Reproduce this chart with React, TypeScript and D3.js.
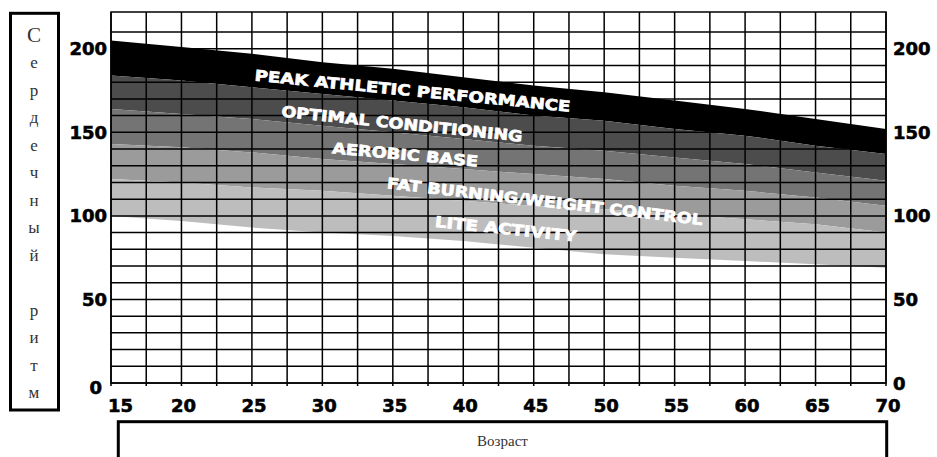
import React from 'react';
import * as d3 from 'd3';

// heart-rate zone boundaries, per age
const ages = [15, 20, 25, 30, 35, 40, 45, 50, 55, 60, 65, 70];
const peakTop = [205, 201, 197, 192, 188, 183, 178, 174, 169, 164, 158, 152];
const optimalTop = [184, 181, 177, 173, 169, 165, 160, 157, 152, 148, 142, 137];
const aerobicTop = [164, 161, 158, 154, 150, 146, 142, 139, 135, 131, 126, 121];
const fatBurnTop = [143, 141, 138, 134, 131, 128, 125, 122, 118, 115, 111, 106];
const liteTop = [122, 120, 117, 115, 112, 109, 106, 104, 101, 98, 95, 90];
const liteBottom = [100, 97, 93, 90, 88, 85, 81, 77, 75, 73, 71, 69];

const zoneNames = [
  'PEAK ATHLETIC PERFORMANCE',
  'OPTIMAL CONDITIONING',
  'AEROBIC BASE',
  'FAT BURNING/WEIGHT CONTROL',
  'LITE ACTIVITY',
];
// where each zone name starts and ends, as [age, bpm]
const zoneLabelStart = [[25.2, 184], [27.1, 162.4], [30.7, 140.5], [34.6, 119.5], [38.0, 96.5]];
const zoneLabelEnd = [[47.6, 165.3], [44.2, 147.4], [41.05, 132.4], [57.0, 97.5], [48.05, 87.6]];

const yTicks = [0, 50, 100, 150, 200];
const xTicks = [15, 20, 25, 30, 35, 40, 45, 50, 55, 60, 65, 70];
const yTitle = 'Сердечный ритм';
const xTitle = 'Возраст';

const zoneColors = ['#000000', '#4c4c4c', '#747474', '#9b9b9b', '#bdbdbd'];

const W = 937;
const H = 457;
const plot = { left: 111, right: 886, top: 12, bottom: 383 };

export default function App() {
  const x = d3.scaleLinear().domain([15, 70]).range([plot.left, plot.right]);
  const y = d3.scaleLinear().domain([0, 222]).range([plot.bottom, plot.top]);

  const bounds = [peakTop, optimalTop, aerobicTop, fatBurnTop, liteTop, liteBottom];
  const area = d3
    .area<number>()
    .x((_, i) => x(ages[i]))
    .curve(d3.curveLinear);

  const bands = zoneColors.map((c, k) => {
    const top = bounds[k];
    const bot = bounds[k + 1];
    const path = area.y0((_, i) => y(bot[i])).y1((_, i) => y(top[i]))(ages) as string;
    return <path key={k} d={path} fill={c} />;
  });

  const vLines = d3.range(15, 70.01, 2.5);
  const hLines = d3.range(0, 211, 10);

  const numFont = {
    fontFamily: '"DejaVu Sans", sans-serif',
    fontWeight: 700,
    fontSize: 18,
    fill: '#000',
    stroke: '#000',
    strokeWidth: 0.6,
  };

  const letters = Array.from(yTitle);

  return (
    <div style={{ position: 'absolute', left: 0, top: 0 }}>
      <svg width={W} height={H} viewBox={`0 0 ${W} ${H}`} style={{ display: 'block', background: '#fff' }}>
        {bands}

        {/* grid */}
        <g stroke="#000" strokeWidth={1.5}>
          {hLines.map((v) => (
            <line key={'h' + v} x1={plot.left} x2={plot.right} y1={y(v)} y2={y(v)} />
          ))}
          {vLines.map((v) => (
            <line key={'v' + v} x1={x(v)} x2={x(v)} y1={plot.top} y2={plot.bottom + 3} />
          ))}
          <rect x={plot.left} y={plot.top} width={plot.right - plot.left} height={plot.bottom - plot.top} fill="none" />
        </g>

        {/* zone names */}
        {zoneNames.map((name, i) => {
          const x0 = x(zoneLabelStart[i][0]);
          const y0 = y(zoneLabelStart[i][1]);
          const x1 = x(zoneLabelEnd[i][0]);
          const y1 = y(zoneLabelEnd[i][1]);
          const ang = (Math.atan2(y1 - y0, x1 - x0) * 180) / Math.PI;
          const len = Math.hypot(x1 - x0, y1 - y0);
          return (
            <text
              key={name}
              x={x0}
              y={y0}
              transform={`rotate(${ang},${x0},${y0})`}
              dominantBaseline="central"
              textLength={len}
              lengthAdjust="spacingAndGlyphs"
              style={{
                fontFamily: '"DejaVu Sans", sans-serif',
                fontWeight: 700,
                fontSize: 15,
                fill: '#fff',
                stroke: '#fff',
                strokeWidth: 0.7,
              }}
            >
              {name}
            </text>
          );
        })}

        {/* y axis labels, both sides */}
        {yTicks.map((v) => (
          <g key={'y' + v}>
            <text
              x={v === 0 ? plot.left - 9 : plot.left - 4}
              y={y(v) + (v === 0 ? 4 : 0)}
              textAnchor="end"
              dominantBaseline="central"
              style={numFont}
            >
              {v}
            </text>
            <text x={plot.right + 7} y={y(v)} textAnchor="start" dominantBaseline="central" style={numFont}>
              {v}
            </text>
          </g>
        ))}

        {/* x axis labels */}
        {xTicks.map((v, i) => (
          <text
            key={'x' + v}
            x={i === 0 ? x(v) - 3 : x(v) + 2}
            y={405}
            textAnchor={i === 0 ? 'start' : 'middle'}
            dominantBaseline="central"
            style={numFont}
          >
            {v}
          </text>
        ))}

        {/* y title box */}
        <rect x={10.5} y={13.3} width={48} height={396.7} fill="none" stroke="#000" strokeWidth={3} />
        {letters.map((ch, i) => (
          <text
            key={'l' + i}
            x={34}
            y={35 + i * 27.5}
            textAnchor="middle"
            dominantBaseline="central"
            style={{ fontFamily: '"Liberation Serif", serif', fontSize: i === 0 ? 21 : 17, fill: '#333' }}
          >
            {ch}
          </text>
        ))}

        {/* x title box */}
        <rect x={118.3} y={421.7} width={768.4} height={60} fill="none" stroke="#000" strokeWidth={3} />
        <text
          x={(118.3 + 886.7) / 2}
          y={441}
          textAnchor="middle"
          dominantBaseline="central"
          style={{ fontFamily: '"Liberation Serif", serif', fontSize: 15, fill: '#333' }}
        >
          {xTitle}
        </text>
      </svg>
    </div>
  );
}
